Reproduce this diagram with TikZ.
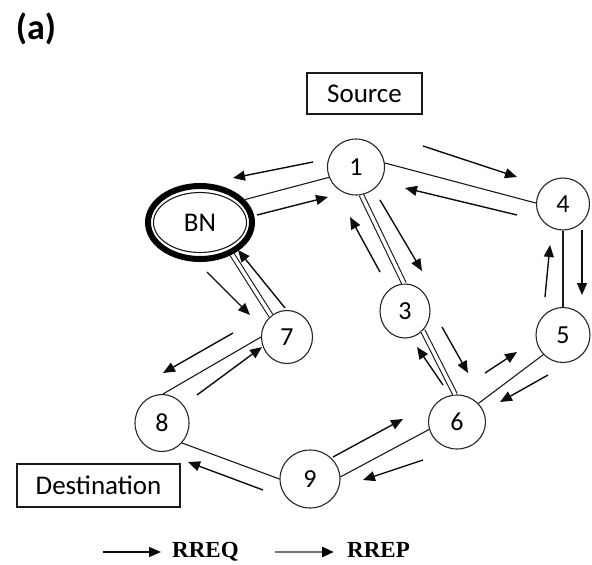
\documentclass[tikz,border=0pt]{standalone}
\usepackage{fontspec}
\setmainfont{Carlito}
\newfontfamily\legendfont{Liberation Serif}
\usetikzlibrary{arrows.meta,shapes.geometric}

\begin{document}
\begin{tikzpicture}[x=1pt,y=-1pt,
  host/.style={ellipse,draw=black!85,line width=1.1pt,fill=white,inner sep=0pt,
    font=\fontsize{26}{26}\selectfont},
  tag/.style={draw=black!90,line width=1.1pt,inner sep=0pt,
    font=\fontsize{27}{27}\selectfont},
  link/.style={draw=black!90,line width=1.1pt},
  duallink/.style={draw=black!90,line width=1.1pt,double=white,double distance=3.4pt},
  msg/.style={draw=black!95,line width=1.4pt,-{Triangle[length=12pt,width=10pt]}},
  reply/.style={draw=black!55,line width=2.6pt,-{Triangle[length=12pt,width=10pt,color=black]}},
  legendtext/.style={font=\legendfont\bfseries\fontsize{23}{23}\selectfont,anchor=base west,inner sep=0pt}
]
\useasboundingbox (0,0) rectangle (592,565);

% panel label
\node[font=\bfseries\fontsize{36}{36}\selectfont] (panel) at (36,29) {(a)};

% labels
\node[tag,minimum width=115pt,minimum height=41pt] (src) at (364.5,93.5) {Source};
\node[tag,minimum width=163pt,minimum height=43pt] (dst) at (98.5,485.5) {Destination};

% border node (double ring)
\node[ellipse,minimum width=110pt,minimum height=79pt,inner sep=0pt,
      font=\fontsize{27}{27}\selectfont] (bn) at (200,222.5) {BN};
\draw[black,line width=6pt] (bn.center) ellipse [x radius=52pt,y radius=36.5pt];
\draw[black!90,line width=1.1pt] (bn.center) ellipse [x radius=46.5pt,y radius=30pt];

% hosts
\node[host,minimum width=57pt,minimum height=56pt] (n1) at (356,167) {1};
\node[host,minimum width=50pt,minimum height=54pt] (n3) at (405,311) {3};
\node[host,minimum width=53pt,minimum height=52pt] (n4) at (563,204) {4};
\node[host,minimum width=54pt,minimum height=55pt] (n5) at (563,335) {5};
\node[host,minimum width=57pt,minimum height=54pt] (n6) at (457,422) {6};
\node[host,minimum width=51pt,minimum height=53pt] (n7) at (287,337) {7};
\node[host,minimum width=54pt,minimum height=57pt] (n8) at (162,423) {8};
\node[host,minimum width=60pt,minimum height=58pt] (n9) at (310,479) {9};

% links
\draw[link] (bn.27) -- (n1.201);
\draw[link] (n1.8) -- (n4.178);
\draw[duallink] (n1.-79) -- (n3.92);
\draw[duallink] (n3.-48) -- (n6.94);
\draw[link] (n4.south) -- (n5.north);
\draw[link] (n6.41) -- (n5.225);
\draw[link] (n9.4) -- (n6.195);
\draw[link] (n9.180) -- (n8.-45);
\draw[link] (n8.88) -- (n7.180);
\draw[duallink] (bn.-45) -- (n7.127);

% route messages
\foreach \m/\sx/\sy/\ex/\ey in {
  a/313/162/233/178, b/257/215/328/197,
  c/423/146/517/177, d/517/215/405/188,
  e/380/200/422/271, f/380/272/350/217,
  g/442/327/468/373, h/443/385/417/347,
  i/485/373/517/352, j/548/375/500/402,
  k/545/297/550/245, l/582/230/582/295,
  m/423/460/363/480, n/333/457/403/419,
  o/263/490/188/462, p/197/395/262/347,
  q/233/333/163/373, r/207/272/250/315,
  s/285/308/238/250}{
  \coordinate (\m-from) at (\sx,\sy);
  \coordinate (\m-to) at (\ex,\ey);
  \draw[msg] (\m-from) -- (\m-to);
}

% legend
\coordinate (reqfrom) at (103,552);
\coordinate (reqto) at (161,552);
\coordinate (repfrom) at (275,552);
\coordinate (repto) at (334,552);
\draw[msg] (reqfrom) -- (reqto);
\draw[reply] (repfrom) -- (repto);
\node[legendtext] (req) at (172,557) {RREQ};
\node[legendtext] (rep) at (347,557) {RREP};
\end{tikzpicture}
\end{document}
